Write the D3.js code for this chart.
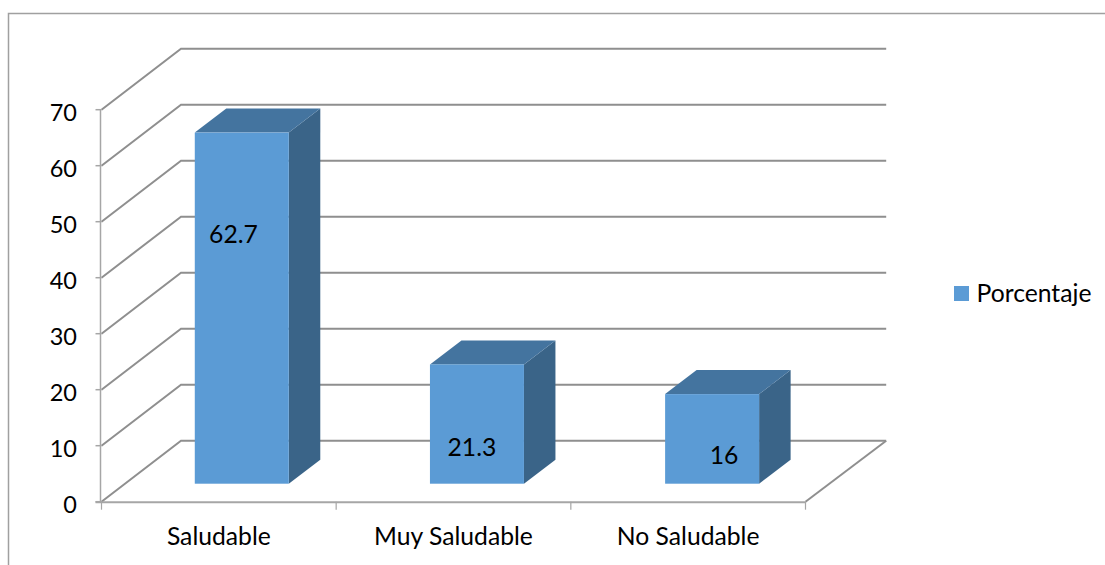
<!DOCTYPE html>
<html>
<head>
<meta charset="utf-8">
<script src="https://cdn.jsdelivr.net/npm/d3@7/dist/d3.min.js"></script>
<style>
html,body{margin:0;padding:0;background:#fff;overflow:hidden}
text{font-family:Lato,"Open Sans",sans-serif;fill:#000}
</style>
</head>
<body>
<svg id="chart" width="1105" height="565"></svg>
<script>
// Chart data
const categories = ["Saludable", "Muy Saludable", "No Saludable"];
const porcentaje = [62.7, 21.3, 16];
const valueLabels = ["62.7", "21.3", "16"];
const yTicks = [0, 10, 20, 30, 40, 50, 60, 70];
const seriesName = "Porcentaje";

// Layout of the pseudo-3D box
const floorLeft = 101.5, floorRight = 805.5;
const yBase = 501.7, yTop = 109.7;
const wallDx = 79.5, wallDy = -61;      // depth of the whole plot box
const barDx = 31.5, barDy = -24;        // depth of each bar
const barInsetX = 22.7, barInsetY = -18; // front face of bars sits inside the floor
const gridColor = "#8f8f8f", axisColor = "#a6a6a6";
const frontColor = "#5b9bd5", topColor = "#44749f", sideColor = "#3a6488";
const textSize = 24.7, axisTextSize = 23.5;

const svg = d3.select("#chart");

const y = d3.scaleLinear().domain([0, 70]).range([yBase, yTop]);
const x = d3.scaleBand().domain(categories).range([floorLeft, floorRight]);
// Bars sit on the receding floor, so their spacing is slightly wider than the axis bands
const xBars = d3.scaleBand().domain(categories).range([floorLeft, floorRight + 1.5]);
const barWidth = 94;

// Outer frame: only the top and left edges remain in view
svg.append("path")
  .attr("d", "M8.5,565V13.5H1105")
  .attr("fill", "none").attr("stroke", "#a0a0a0").attr("stroke-width", 1.5);

// Gridlines bend from the left wall onto the back wall
const grid = svg.append("g").attr("fill", "none").attr("stroke", gridColor).attr("stroke-width", 2);
grid.selectAll("path").data(yTicks).join("path")
  .attr("d", d => {
    const p = d3.path();
    p.moveTo(floorLeft, y(d));
    p.lineTo(floorLeft + wallDx, y(d) + wallDy);
    p.lineTo(floorRight + wallDx + 1.2, y(d) + wallDy);
    return p.toString();
  });

// Right edge of the floor
svg.append("line")
  .attr("x1", floorRight).attr("y1", yBase)
  .attr("x2", floorRight + wallDx + 1.2).attr("y2", yBase + wallDy)
  .attr("stroke", gridColor).attr("stroke-width", 2);

// Value axis
const yAxis = svg.append("g");
yAxis.append("line")
  .attr("x1", floorLeft - 1).attr("x2", floorLeft - 1)
  .attr("y1", yTop).attr("y2", yBase)
  .attr("stroke", axisColor).attr("stroke-width", 1.5);
yAxis.selectAll("line.tick").data(yTicks).join("line")
  .attr("class", "tick")
  .attr("x1", floorLeft - 6).attr("x2", floorLeft)
  .attr("y1", d => y(d)).attr("y2", d => y(d))
  .attr("stroke", axisColor).attr("stroke-width", 1.5);
yAxis.selectAll("text").data(yTicks).join("text")
  .attr("x", 77).attr("y", d => y(d) + 2)
  .attr("text-anchor", "end").attr("dominant-baseline", "central")
  .attr("font-size", axisTextSize).text(d => d);

// Category axis
const xAxis = svg.append("g");
xAxis.append("line")
  .attr("x1", floorLeft - 6).attr("x2", floorRight)
  .attr("y1", yBase + 0.5).attr("y2", yBase + 0.5)
  .attr("stroke", axisColor).attr("stroke-width", 2);
xAxis.selectAll("line.tick").data(d3.range(categories.length + 1)).join("line")
  .attr("class", "tick")
  .attr("x1", i => floorLeft + i * x.bandwidth())
  .attr("x2", i => floorLeft + i * x.bandwidth())
  .attr("y1", yBase).attr("y2", yBase + 8)
  .attr("stroke", axisColor).attr("stroke-width", 1.2);
xAxis.selectAll("text").data(categories).join("text")
  .attr("x", d => x(d) + x.bandwidth() / 2)
  .attr("y", 545)
  .attr("text-anchor", "middle")
  .attr("font-size", textSize).text(d => d);

// Bars: front, top and side faces
const bars = svg.append("g").selectAll("g").data(categories).join("g");
const left = d => xBars(d) + xBars.bandwidth() / 2 - barWidth / 2 + barInsetX;
const barTop = (i) => y(porcentaje[i]) + barInsetY;
const barBottom = y(0) + barInsetY;

bars.append("path")
  .attr("fill", sideColor)
  .attr("d", (d, i) => {
    const xr = left(d) + barWidth;
    return `M${xr},${barTop(i)}l${barDx},${barDy}V${barBottom + barDy}L${xr},${barBottom}Z`;
  });
bars.append("path")
  .attr("fill", topColor)
  .attr("d", (d, i) =>
    `M${left(d)},${barTop(i)}l${barDx},${barDy}h${barWidth}l${-barDx},${-barDy}Z`);
bars.append("rect")
  .attr("x", left)
  .attr("y", (d, i) => barTop(i))
  .attr("width", barWidth)
  .attr("height", (d, i) => barBottom - barTop(i))
  .attr("fill", frontColor);

// Value labels are hand-placed on each bar rather than centred
const labelOffsetX = [-8.3, -5, 11.9];
const labelY = [233, 446, 454];
bars.append("text")
  .attr("x", (d, i) => left(d) + barWidth / 2 + labelOffsetX[i])
  .attr("y", (d, i) => labelY[i])
  .attr("text-anchor", "middle").attr("dominant-baseline", "central")
  .attr("font-size", textSize)
  .text((d, i) => valueLabels[i]);

// Legend
svg.append("rect")
  .attr("x", 954).attr("y", 286).attr("width", 15).attr("height", 15)
  .attr("fill", frontColor);
svg.append("text")
  .attr("x", 976.5).attr("y", 302)
  .attr("font-size", textSize).text(seriesName);
</script>
</body>
</html>
